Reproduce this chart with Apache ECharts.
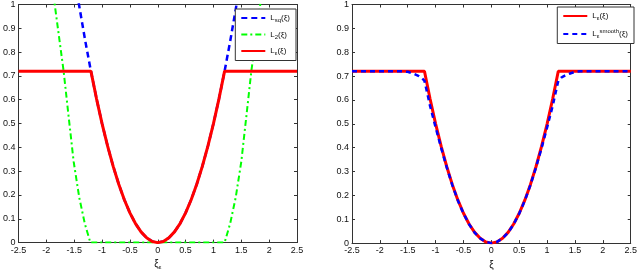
<!DOCTYPE html>
<html><head><meta charset="utf-8">
<script src="https://cdn.jsdelivr.net/npm/echarts@6/dist/echarts.min.js"></script>
<style>html,body{margin:0;padding:0;background:#fff}#c{width:640px;height:275px}</style>
</head><body><div id="c"></div>
<script>
// ---- data ----
const xTicks = [-2.5,-2,-1.5,-1,-0.5,0,0.5,1,1.5,2,2.5];
const yTicks = [0,0.1,0.2,0.3,0.4,0.5,0.6,0.7,0.8,0.9,1];

// left panel
const sqX = [-1.45,-1.4,-1.3,-1.2,-1.1,-1.0,-0.9,-0.8,-0.7,-0.6,-0.5,-0.4,-0.3,-0.2,-0.1,0,0.1,0.2,0.3,0.4,0.5,0.6,0.7,0.8,0.9,1.0,1.1,1.2,1.3,1.4,1.45];
const sqY = [1.05,0.98,0.845,0.72,0.605,0.5,0.405,0.32,0.245,0.18,0.125,0.08,0.045,0.02,0.005,0,0.005,0.02,0.045,0.08,0.125,0.18,0.245,0.32,0.405,0.5,0.605,0.72,0.845,0.98,1.05];

const l2X = [-1.91,-1.85,-1.77,-1.69,-1.61,-1.51,-1.41,-1.31,-1.21,0,1.2,1.3,1.4,1.5,1.6,1.68,1.76,1.84,1.9];
const l2Y = [1.1,1.0,0.86,0.72,0.55,0.34,0.19,0.08,0,0,0,0.08,0.19,0.34,0.55,0.72,0.86,1.0,1.1];

const leX = [-2.5,-1.2,-1.1,-1.0,-0.9,-0.8,-0.7,-0.6,-0.5,-0.4,-0.3,-0.2,-0.1,0,0.1,0.2,0.3,0.4,0.5,0.6,0.7,0.8,0.9,1.0,1.1,1.2,2.5];
const leY = [0.72,0.72,0.605,0.5,0.405,0.32,0.245,0.18,0.125,0.08,0.045,0.02,0.005,0,0.005,0.02,0.045,0.08,0.125,0.18,0.245,0.32,0.405,0.5,0.605,0.72,0.72];

// right panel
const smX = [-2.5,-1.6,-1.5,-1.4,-1.3,-1.25,-1.2,-1.15,-1.1,-1.0,-0.9,-0.8,-0.7,-0.6,-0.5,-0.4,-0.3,-0.2,-0.1,0,0.1,0.2,0.3,0.4,0.5,0.6,0.7,0.8,0.9,1.0,1.1,1.15,1.2,1.25,1.3,1.4,1.5,1.6,2.5];
const smY = [0.72,0.72,0.718,0.71,0.7,0.693,0.68,0.628,0.575,0.485,0.398,0.317,0.243,0.178,0.124,0.079,0.044,0.02,0.005,0,0.005,0.02,0.044,0.079,0.124,0.178,0.243,0.317,0.398,0.485,0.575,0.628,0.68,0.693,0.7,0.71,0.718,0.72,0.72];

const zip = (a,b)=>a.map((v,i)=>[v,b[i]]);

const FONT = 'Liberation Sans, Arial, sans-serif';
const AX = '#333';
const fmtX = v => String(v);
const fmtY = v => String(Math.round(v*10)/10);

function axesFor(gi, nameText){
  const common = {
    type:'value', gridIndex:gi,
    axisLine:{onZero:false, lineStyle:{color:AX,width:1}},
    axisTick:{inside:true,length:3,lineStyle:{color:AX}},
    splitLine:{show:false}
  };
  const xs = [
    Object.assign({}, common, {min:-2.5, max:2.5, interval:0.5, position:'bottom',
     axisLabel:{color:'#111',fontFamily:FONT,fontSize:9,margin:3,formatter:fmtX},
     name: nameText, nameLocation:'middle', nameGap:13,
     nameTextStyle:{color:'#111',fontFamily:FONT,fontSize:10,rich:{s:{fontSize:6,padding:[5,0,0,0],fontFamily:FONT,color:'#111'}}}}),
    Object.assign({}, common, {min:-2.5, max:2.5, interval:0.5, position:'top', axisLabel:{show:false}})
  ];
  const ys = [
    Object.assign({}, common, {min:0, max:1, interval:0.1, position:'left',
     axisLabel:{color:'#111',fontFamily:FONT,fontSize:9,margin:3,formatter:fmtY}}),
    Object.assign({}, common, {min:0, max:1, interval:0.1, position:'right', axisLabel:{show:false}})
  ];
  return {xs, ys};
}
const a0 = axesFor(0, 'ξ{s|ε}');
const a1 = axesFor(1, 'ξ');

const rich = {
  s:{fontSize:6,padding:[5,0,0,0],fontFamily:FONT,color:'#111'},
  p:{fontSize:6,padding:[0,0,5,0],fontFamily:FONT,color:'#111'},
  n:{fontSize:8,fontFamily:FONT,color:'#111'}
};
const names = {
  'Lsq':'{n|L}{s|sq}{n|(ξ)}',
  'L2':'{n|L}{s|2}{n|(ξ)}',
  'Le':'{n|L}{s|ε}{n|(ξ)}',
  'Le2':'{n|L}{s|ε}{n|(ξ)}',
  'Lsm':'{n|L}{s|ε}{p|smooth}{n|(ξ)}'
};

const legendBase = {
  orient:'vertical', itemWidth:24, itemHeight:8, itemGap:7,
  backgroundColor:'#fff', borderColor:'#333', borderWidth:1, borderRadius:0,
  padding:[5,6,4,5],
  itemStyle:{opacity:0},
  formatter: n => names[n],
  textStyle:{fontFamily:FONT,fontSize:8,rich:rich}
};

const opt = {
  animation:false,
  backgroundColor:'#fff',
  grid:[
    {left:14,right:343,top:3,bottom:22},
    {left:352,right:5,top:3,bottom:22}
  ],
  xAxis:[...a0.xs, ...a1.xs],
  yAxis:[...a0.ys, ...a1.ys],
  legend:[
    Object.assign({}, legendBase, {data:['Lsq','L2','Le'], right:343+1, top:9}),
    Object.assign({}, legendBase, {data:['Le2','Lsm'], right:6, top:7})
  ],
  series:[
    {name:'Lsq', type:'line', xAxisIndex:0, yAxisIndex:0, data:zip(sqX,sqY), symbol:'none', showSymbol:false,
     lineStyle:{color:'#0000ff',width:2.5,type:[6,4]}, itemStyle:{color:'#0000ff'}, clip:true},
    {name:'L2', type:'line', xAxisIndex:0, yAxisIndex:0, data:zip(l2X,l2Y), symbol:'none', showSymbol:false,
     lineStyle:{color:'#00ff00',width:2,type:[6,3,2,3]}, itemStyle:{color:'#00ff00'}, clip:true},
    {name:'Le', type:'line', xAxisIndex:0, yAxisIndex:0, data:zip(leX,leY), symbol:'none', showSymbol:false,
     lineStyle:{color:'#ff0000',width:3}, itemStyle:{color:'#ff0000'}, clip:true},
    {name:'Le2', type:'line', xAxisIndex:2, yAxisIndex:2, data:zip(leX,leY), symbol:'none', showSymbol:false,
     lineStyle:{color:'#ff0000',width:3}, itemStyle:{color:'#ff0000'}, clip:true},
    {name:'Lsm', type:'line', xAxisIndex:2, yAxisIndex:2, data:zip(smX,smY), symbol:'none', showSymbol:false,
     lineStyle:{color:'#0000ff',width:2.5,type:[5,4]}, itemStyle:{color:'#0000ff'}, clip:true}
  ]
};
const ch = echarts.init(document.getElementById('c'), null, {renderer:'canvas'});
ch.setOption(opt);
</script>
</body></html>
